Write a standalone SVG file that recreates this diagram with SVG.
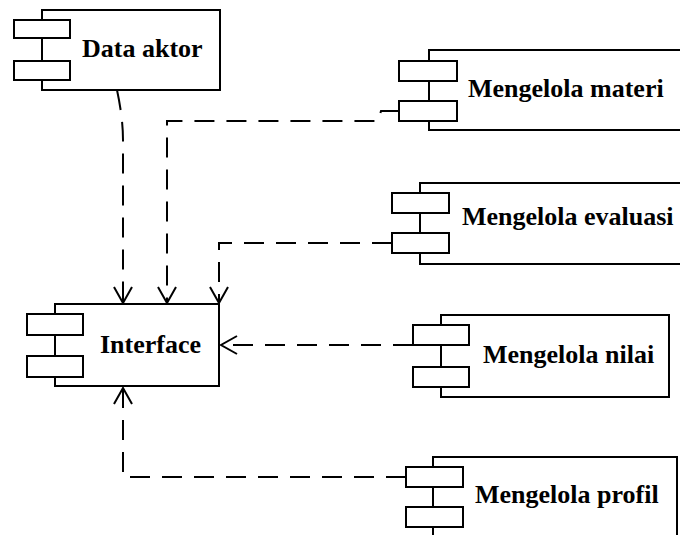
<svg xmlns="http://www.w3.org/2000/svg" width="680" height="535" viewBox="0 0 680 535">
<style>
.box{fill:#fff;stroke:#000;stroke-width:2}
.lbl{font-family:"Liberation Serif","Times New Roman",serif;font-weight:bold;font-size:26px;fill:#000}
.dep{fill:none;stroke:#000;stroke-width:2;stroke-dasharray:20,12}
.stub{fill:none;stroke:#000;stroke-width:2}
</style>
<defs>
<marker id="open" viewBox="-18 -10 20 20" markerWidth="20" markerHeight="20" refX="0" refY="0" orient="auto" markerUnits="userSpaceOnUse">
<path d="M-16,-9 L0,0 L-16,9" fill="none" stroke="#000" stroke-width="2" stroke-dasharray="none"/>
</marker>
</defs>
<rect width="680" height="535" fill="#fff"/>
<g id="connectors">
<path class="dep" d="M117,90 Q123,118 123,140 L123,303" marker-end="url(#open)"/>
<path class="dep" d="M399,111 L381,111 L378,121 L167,121 L167,303" marker-end="url(#open)"/>
<path class="dep" d="M392,243 L219,243 L219,303" marker-end="url(#open)"/>
<path class="dep" d="M413,345 L221,345" marker-end="url(#open)"/>
<path class="dep" d="M406,477 L123,477 L123,388" marker-end="url(#open)"/>
</g>
<g id="data-aktor">
<rect class="box" x="42" y="10" width="178" height="80"/>
<rect class="box" x="14" y="20" width="56" height="18"/>
<rect class="box" x="14" y="61" width="56" height="19"/>
<text class="lbl" x="82" y="57">Data aktor</text>
</g>
<g id="mengelola-materi">
<rect class="box" x="429" y="50" width="260" height="80"/>
<rect class="box" x="399" y="61" width="58" height="20"/>
<rect class="box" x="399" y="101" width="58" height="20"/>
<text class="lbl" x="468" y="97">Mengelola materi</text>
</g>
<g id="mengelola-evaluasi">
<rect class="box" x="420" y="183" width="270" height="81"/>
<rect class="box" x="392" y="193" width="57" height="20"/>
<rect class="box" x="392" y="233" width="57" height="20"/>
<text class="lbl" x="462" y="225">Mengelola evaluasi</text>
</g>
<g id="interface">
<rect class="box" x="55" y="304" width="164" height="82"/>
<rect class="box" x="27" y="314" width="56" height="21"/>
<rect class="box" x="27" y="356" width="56" height="21"/>
<text class="lbl" x="100" y="353">Interface</text>
</g>
<g id="mengelola-nilai">
<rect class="box" x="441" y="315" width="228" height="82"/>
<rect class="box" x="413" y="325" width="56" height="20"/>
<rect class="box" x="413" y="367" width="56" height="20"/>
<text class="lbl" x="483" y="363">Mengelola nilai</text>
</g>
<g id="mengelola-profil">
<rect class="box" x="433" y="457" width="244" height="90"/>
<rect class="box" x="406" y="467" width="57" height="20"/>
<rect class="box" x="406" y="507" width="57" height="20"/>
<text class="lbl" x="475" y="503">Mengelola profil</text>
</g>
</svg>
